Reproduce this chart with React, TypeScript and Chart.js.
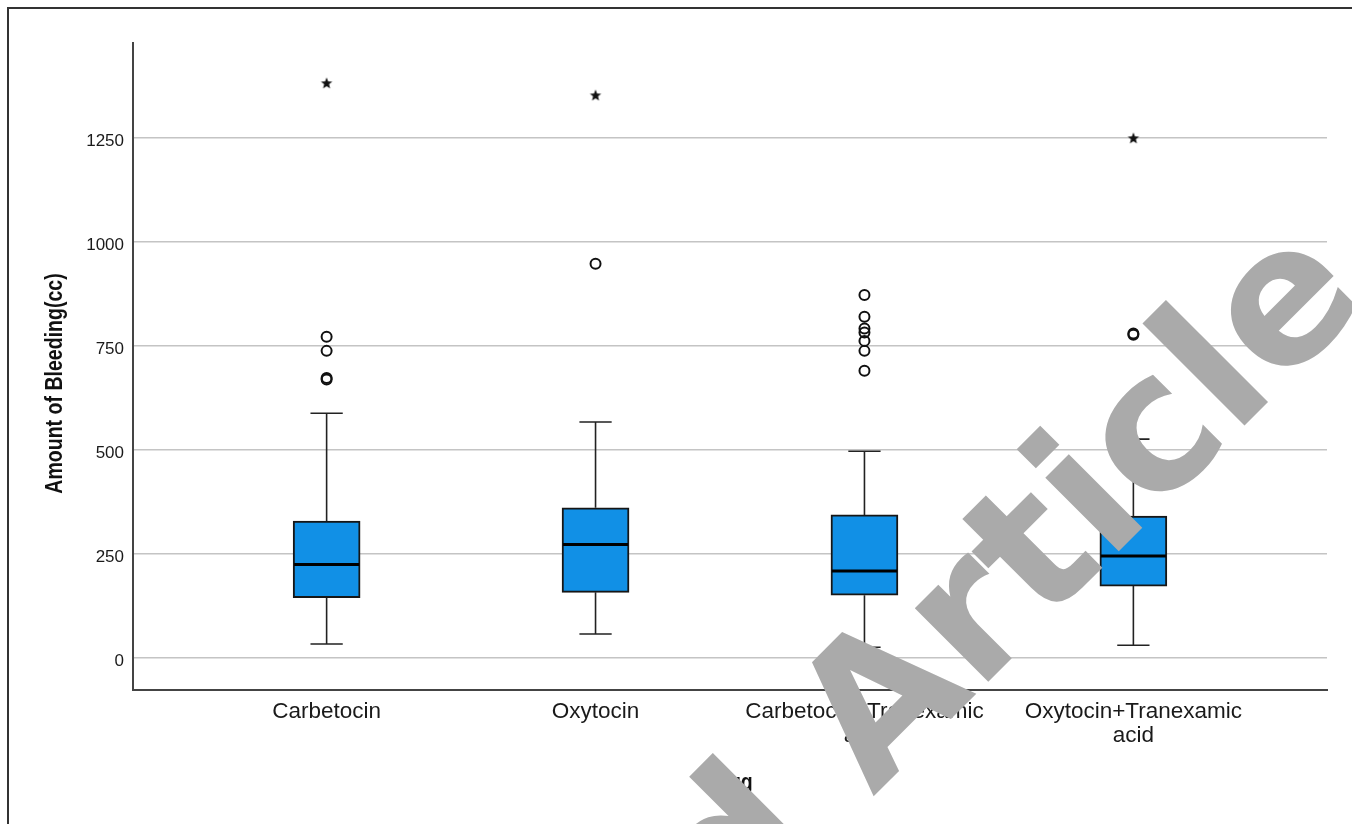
import React, { useEffect, useRef } from 'react';
import { Chart, registerables } from 'chart.js';

Chart.register(...registerables);

// ---- data ----
const groupLabels: (string | string[])[] = [
  'Carbetocin',
  'Oxytocin',
  ['Carbetocin+Tranexamic', 'acid'],
  ['Oxytocin+Tranexamic', 'acid'],
];
const groupPositions = [1, 2, 3, 4];
const q1Values = [144, 157, 150, 172];
const medianValues = [224, 272, 208, 244];
const q3Values = [328, 360, 343, 340];
const lowerWhiskers = [33, 57, 25, 30];
const upperWhiskers = [587, 566, 496, 525];
const outlierValues = [
  [771, 737, 672, 668],
  [946],
  [871, 819, 791, 781, 761, 737, 689],
  [779, 776],
];
const extremeValues = [[1380], [1351], [], [1248]];
const yTickValues = [0, 250, 500, 750, 1000, 1250];
const yAxisTitle = 'Amount of Bleeding(cc)';
const xAxisTitle = 'Drug';
const watermarkBefore = 'Retracted ';
const watermarkAfter = 'Article';

const BOX_HALF = 0.125;
const CAP_HALF = 0.06;

function makeStar(): HTMLCanvasElement {
  const c = document.createElement('canvas');
  c.width = 14;
  c.height = 14;
  const g = c.getContext('2d')!;
  g.fillStyle = '#111';
  g.beginPath();
  for (let i = 0; i < 10; i++) {
    const r = i % 2 === 0 ? 6.0 : 2.6;
    const a = -Math.PI / 2 + (i * Math.PI) / 5;
    const px = 7 + r * Math.cos(a);
    const py = 7.3 + r * Math.sin(a);
    if (i === 0) g.moveTo(px, py);
    else g.lineTo(px, py);
  }
  g.closePath();
  g.fill();
  return c;
}

const decorPlugin = {
  id: 'decor',
  beforeDraw(chart: any) {
    const ctx = chart.ctx;
    ctx.save();
    ctx.fillStyle = '#ffffff';
    ctx.fillRect(0, 0, chart.width, chart.height);
    ctx.restore();
  },
  afterDraw(chart: any) {
    const ctx = chart.ctx;
    ctx.save();
    // outer frame
    ctx.strokeStyle = '#333333';
    ctx.lineWidth = 2;
    ctx.beginPath();
    ctx.moveTo(8, chart.height);
    ctx.lineTo(8, 8);
    ctx.lineTo(chart.width, 8);
    ctx.stroke();

    // y axis title
    ctx.fillStyle = '#111';
    ctx.font = 'bold 23px "Liberation Sans", Arial, sans-serif';
    ctx.textAlign = 'center';
    ctx.textBaseline = 'alphabetic';
    ctx.save();
    ctx.translate(62, 383.5);
    ctx.rotate(-Math.PI / 2);
    ctx.scale(0.85, 1);
    ctx.fillText(yAxisTitle, 0, 0);
    ctx.restore();

    // x axis title
    ctx.save();
    ctx.translate(730, 790);
    ctx.scale(0.85, 1);
    ctx.fillText(xAxisTitle, 0, 0);
    ctx.restore();

    // watermark
    ctx.save();
    ctx.fillStyle = '#aaaaaa';
    ctx.font = 'bold 190px "DejaVu Sans", sans-serif';
    ctx.textBaseline = 'alphabetic';
    ctx.translate(873, 797);
    ctx.rotate(-Math.PI / 4);
    ctx.textAlign = 'left';
    ctx.fillText(watermarkAfter, 0, 0);
    ctx.textAlign = 'right';
    ctx.fillText(watermarkBefore, 0, 0);
    ctx.restore();

    ctx.restore();
  },
};

export default function App() {
  const ref = useRef<HTMLCanvasElement | null>(null);

  useEffect(() => {
    if (!ref.current) return;

    const boxData = groupPositions.map((x, i) => ({ x, y: [q1Values[i], q3Values[i]] }));

    const medianData: any[] = [];
    groupPositions.forEach((x, i) => {
      medianData.push({ x: x - BOX_HALF + 0.004, y: medianValues[i] });
      medianData.push({ x: x + BOX_HALF - 0.004, y: medianValues[i] });
      medianData.push({ x: x + 0.5, y: null });
    });

    const whiskerData: any[] = [];
    groupPositions.forEach((x, i) => {
      whiskerData.push({ x, y: q3Values[i] }, { x, y: upperWhiskers[i] }, { x, y: null });
      whiskerData.push({ x: x - CAP_HALF, y: upperWhiskers[i] }, { x: x + CAP_HALF, y: upperWhiskers[i] }, { x, y: null });
      whiskerData.push({ x, y: q1Values[i] }, { x, y: lowerWhiskers[i] }, { x, y: null });
      whiskerData.push({ x: x - CAP_HALF, y: lowerWhiskers[i] }, { x: x + CAP_HALF, y: lowerWhiskers[i] }, { x, y: null });
    });

    const outlierData = outlierValues.flatMap((arr, i) => arr.map((v) => ({ x: groupPositions[i], y: v })));
    const extremeData = extremeValues.flatMap((arr, i) => arr.map((v) => ({ x: groupPositions[i], y: v })));

    const chart = new Chart(ref.current, {
      type: 'bar',
      data: {
        datasets: [
          {
            type: 'line',
            data: medianData,
            borderColor: '#000',
            borderWidth: 3,
            pointRadius: 0,
            spanGaps: false,
            order: 0,
          } as any,
          {
            type: 'scatter',
            data: outlierData,
            pointStyle: 'circle',
            pointRadius: 5,
            pointBorderWidth: 2,
            pointBorderColor: '#111',
            pointBackgroundColor: 'rgba(255,255,255,0)',
            order: 1,
          } as any,
          {
            type: 'scatter',
            data: extremeData,
            pointStyle: makeStar(),
            pointRadius: 7,
            order: 1,
          } as any,
          {
            type: 'line',
            data: whiskerData,
            borderColor: '#222',
            borderWidth: 1.6,
            pointRadius: 0,
            spanGaps: false,
            order: 2,
          } as any,
          {
            type: 'bar',
            data: boxData,
            backgroundColor: '#1190e6',
            borderColor: '#161616',
            borderWidth: 2,
            borderSkipped: false,
            barThickness: 67,
            order: 3,
          } as any,
        ],
      },
      options: {
        animation: false,
        responsive: false,
        events: [],
        layout: { padding: { top: 43.3, right: 25, left: 0, bottom: 0 }, autoPadding: false } as any,
        plugins: {
          legend: { display: false },
          tooltip: { enabled: false },
          title: { display: false },
        },
        scales: {
          x: {
            type: 'linear',
            offset: false,
            min: 0.28,
            max: 4.72,
            afterBuildTicks: (s: any) => {
              s.ticks = groupPositions.map((v) => ({ value: v }));
            },
            afterFit: (s: any) => {
              s.height = 134;
              s.paddingLeft = 0;
              s.paddingRight = 0;
            },
            grid: { display: false, drawTicks: false, offset: false },
            border: { display: true, color: '#444', width: 2 },
            ticks: {
              autoSkip: false,
              maxRotation: 0,
              minRotation: 0,
              padding: 10,
              color: '#1a1a1a',
              font: { family: '"Liberation Sans", Arial, sans-serif', size: 22.5, lineHeight: 1.05 },
              callback: (v: any) => {
                const idx = groupPositions.indexOf(Number(v));
                return idx >= 0 ? (groupLabels[idx] as any) : '';
              },
            },
          },
          y: {
            type: 'linear',
            min: -77.6,
            max: 1475.8,
            afterBuildTicks: (s: any) => {
              s.ticks = yTickValues.map((v) => ({ value: v }));
            },
            afterFit: (s: any) => {
              s.width = 133;
              s.paddingTop = 0;
              s.paddingBottom = 0;
            },
            grid: { color: '#c4c4c4', lineWidth: 1.6, drawTicks: false },
            border: { display: true, color: '#444', width: 2 },
            ticks: {
              padding: 9,
              labelOffset: 4,
              color: '#1a1a1a',
              font: { family: '"Liberation Sans", Arial, sans-serif', size: 17 },
              callback: (v: any) => String(v),
            },
          },
        },
      } as any,
      plugins: [decorPlugin],
    });

    return () => chart.destroy();
  }, []);

  return (
    <div style={{ position: 'fixed', left: 0, top: 0, width: 1352, height: 824, overflow: 'hidden', background: '#fff' }}>
      <canvas ref={ref} width={1352} height={824} style={{ display: 'block', width: 1352, height: 824 }} />
    </div>
  );
}
